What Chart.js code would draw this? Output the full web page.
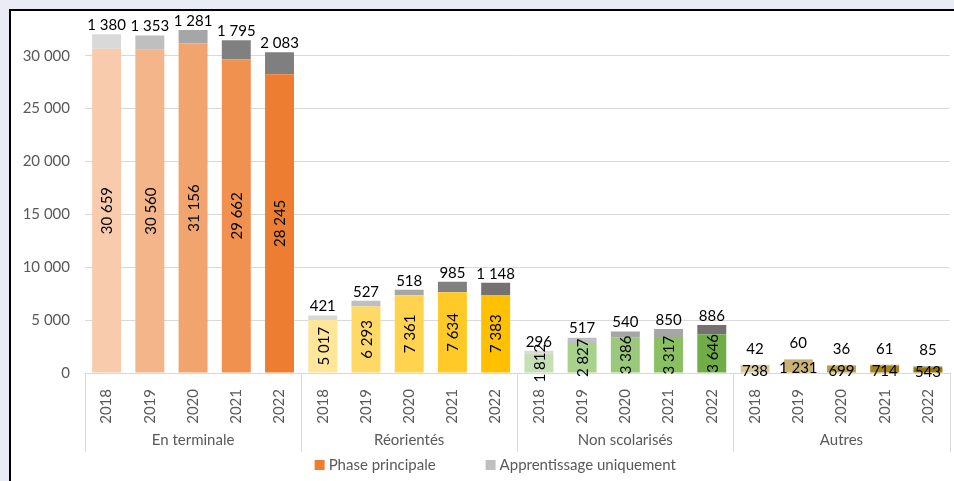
<!DOCTYPE html>
<html>
<head>
<meta charset="utf-8">
<script src="https://cdn.jsdelivr.net/npm/chart.js@4/dist/chart.umd.min.js"></script>
<style>
  html, body { margin:0; padding:0; background:#e9ebf5; overflow:hidden; }
  #frame { position:absolute; left:9px; top:9px; width:960px; height:490px; background:#fff; border-left:2px solid #000; border-top:2px solid #000; }
  #wrap { position:absolute; left:0; top:0; width:954px; height:481px; }
</style>
</head>
<body>
<div id="frame"></div>
<div id="wrap"><canvas id="chart"></canvas></div>
<script>
// data
const years = ["2018", "2019", "2020", "2021", "2022"];
const groups = ["En terminale", "Réorientés", "Non scolarisés", "Autres"];
const phasePrincipale = [30659, 30560, 31156, 29662, 28245,  5017, 6293, 7361, 7634, 7383,  1812, 2827, 3386, 3317, 3646,  738, 1231, 699, 714, 543];
const apprentissage = [1380, 1353, 1281, 1795, 2083,  421, 527, 518, 985, 1148,  296, 517, 540, 850, 886,  42, 60, 36, 61, 85];
const yTicks = [0, 5000, 10000, 15000, 20000, 25000, 30000];

// colours, one per bar
const mainColors = [
  "#f8cbad", "#f4b58a", "#f2a46f", "#f09150", "#ed7d31",
  "#ffe699", "#ffd966", "#ffd34d", "#ffca28", "#ffc000",
  "#c5e0b4", "#a9d18e", "#9bc97c", "#8abf62", "#70ad47",
  "#d9c99a", "#c9b273", "#bf9f4f", "#a8841f", "#9a7400"
];
const apprColors = [
  "#d9d9d9", "#bfbfbf", "#a6a6a6", "#808080", "#7f7f7f",
  "#d9d9d9", "#bfbfbf", "#a6a6a6", "#808080", "#767171",
  "#d9d9d9", "#bfbfbf", "#a6a6a6", "#a6a6a6", "#767171",
  "#d9d9d9", "#bfbfbf", "#a6a6a6", "#a6a6a6", "#a6a6a6"
];

const labels = [];
groups.forEach(() => years.forEach(y => labels.push(y)));

const FONT = "Lato, 'Open Sans', sans-serif";
const GREY_TXT = "#595959";
const fmt = n => String(n).replace(/\B(?=(\d{3})+(?!\d))/g, " ");

// value labels + group labels + legend
const decor = {
  id: "decor",
  afterDatasetsDraw(chart) {
    const ctx = chart.ctx;
    const m0 = chart.getDatasetMeta(0), m1 = chart.getDatasetMeta(1);
    ctx.save();
    ctx.font = "15px " + FONT;
    ctx.fillStyle = "#000";
    ctx.textAlign = "center";
    ctx.textBaseline = "middle";
    m0.data.forEach((bar, i) => {
      const cy = (bar.y + bar.base) / 2;
      if (i < 15) {
        ctx.save();
        ctx.translate(bar.x, cy);
        ctx.rotate(-Math.PI / 2);
        ctx.fillText(fmt(phasePrincipale[i]), 0, 1);
        ctx.restore();
      } else {
        ctx.fillText(fmt(phasePrincipale[i]), bar.x, cy + 2);
      }
    });
    m1.data.forEach((bar, i) => {
      const off = i < 15 ? 9 : 16;
      ctx.fillText(fmt(apprentissage[i]), bar.x, bar.y - off);
    });
    ctx.restore();
  },
  afterDraw(chart) {
    const ctx = chart.ctx, xs = chart.scales.x, area = chart.chartArea;
    const step = (xs.right - xs.left) / labels.length;
    ctx.save();
    ctx.strokeStyle = "#d9d9d9";
    ctx.lineWidth = 1;
    for (let g = 0; g <= groups.length; g++) {
      const px = Math.round(xs.left + g * years.length * step) + 0.5;
      ctx.beginPath();
      ctx.moveTo(px, area.bottom);
      ctx.lineTo(px, area.bottom + 79);
      ctx.stroke();
    }
    ctx.font = "15px " + FONT;
    ctx.fillStyle = GREY_TXT;
    ctx.textAlign = "center";
    ctx.textBaseline = "middle";
    groups.forEach((g, k) => {
      const cx = xs.left + (k + 0.5) * years.length * step;
      ctx.fillText(g, cx, area.bottom + 67);
    });

    // legend
    const items = [["Phase principale", "#ed7d31"], ["Apprentissage uniquement", "#bfbfbf"]];
    const box = 10, gap = 4, between = 50;
    const widths = items.map(it => box + gap + ctx.measureText(it[0]).width);
    const total = widths[0] + widths[1] + between;
    let lx = (area.left + area.right) / 2 - 22 - total / 2;
    const ly = area.bottom + 92;
    ctx.textAlign = "left";
    items.forEach((it, k) => {
      ctx.fillStyle = it[1];
      ctx.fillRect(lx, ly - box / 2, box, box);
      ctx.fillStyle = GREY_TXT;
      ctx.fillText(it[0], lx + box + gap, ly);
      lx += widths[k] + between;
    });
    ctx.restore();
  }
};

new Chart(document.getElementById("chart"), {
  type: "bar",
  data: {
    labels,
    datasets: [
      { label: "Phase principale", data: phasePrincipale, backgroundColor: mainColors, stack: "s" },
      { label: "Apprentissage uniquement", data: apprentissage, backgroundColor: apprColors, stack: "s" }
    ]
  },
  options: {
    responsive: true,
    maintainAspectRatio: false,
    animation: false,
    layout: { padding: { left: 12, right: 3, top: 21, bottom: 29 } },
    datasets: { bar: { categoryPercentage: 1, barPercentage: 0.67 } },
    plugins: { legend: { display: false }, tooltip: { enabled: false } },
    scales: {
      x: {
        stacked: true,
        grid: { display: false },
        border: { display: true, color: "#d9d9d9" },
        ticks: { color: GREY_TXT, font: { family: FONT, size: 15 }, minRotation: 90, maxRotation: 90, padding: 8, autoSkip: false },
        afterFit: s => { s.height = 79; }
      },
      y: {
        stacked: true,
        min: 0,
        max: 33000,
        grid: { color: "#d9d9d9", drawTicks: false },
        border: { display: false },
        ticks: { color: GREY_TXT, font: { family: FONT, size: 15 }, padding: 15, callback: v => fmt(v) },
        afterBuildTicks: s => { s.ticks = yTicks.map(v => ({ value: v })); },
        afterFit: s => { s.width = 73; }
      }
    }
  },
  plugins: [decor]
});
</script>
</body>
</html>
